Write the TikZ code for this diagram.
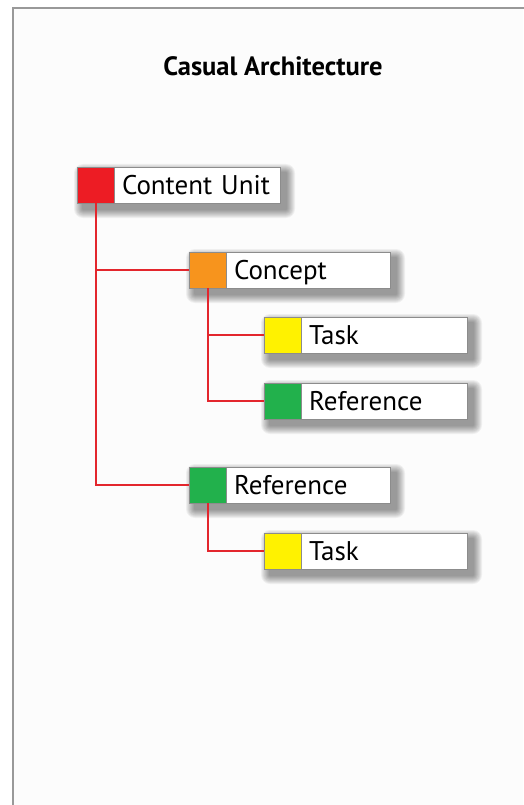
\documentclass[tikz,border=0pt]{standalone}
\usepackage{fontspec}
\setmainfont{PT Sans}
\begin{document}
\begin{tikzpicture}[x=1pt,y=-1pt,
  sq/.style={draw=black!45, line width=0.8pt, minimum width=37pt, minimum height=36pt, inner sep=0pt, outer sep=0pt},
  lab/.style={draw=black!45, line width=0.8pt, fill=white, minimum height=36pt, inner sep=0pt, outer sep=0pt, anchor=west, align=left, font=\fontsize{27}{28}\selectfont, text depth=0pt, text height=18.5pt},
  conn/.style={draw=linered, line width=2pt},
]
\definecolor{linered}{HTML}{E3262D}
\definecolor{cred}{HTML}{ED1C24}
\definecolor{corange}{HTML}{F7941D}
\definecolor{cyellow}{HTML}{FFF200}
\definecolor{cgreen}{HTML}{22B14C}
\definecolor{pagebg}{HTML}{FCFCFC}
\useasboundingbox (0,0) rectangle (523,805);
\fill[white] (0,0) rectangle (523,805);
\fill[pagebg] (13,8) rectangle (523,805);
\draw[black!40, line width=2.6pt] (13,820) -- (13,8) -- (530,8);
\node[font=\bfseries\fontsize{26.5}{30}\selectfont] (title) at (273,66) {Casual Architecture};
% shadows
\foreach \xa/\ya/\xb/\yb in {77/167/280/203, 189/252/390/288, 264/317/467/353, 264/383/467/419, 189/467/390/503, 264/533/467/569}{
  \foreach \r in {1,...,9}{
    \fill[black, opacity=0.05, rounded corners=\r pt] (\xa+6-\r,\ya+6-\r) rectangle (\xb+6+\r,\yb+6+\r);
  }
}
\node[sq, fill=cred] (cu) at (95.5,185) {};
\node[sq, fill=corange] (co) at (207.5,270) {};
\node[sq, fill=cyellow] (t1) at (282.5,335) {};
\node[sq, fill=cgreen] (r1) at (282.5,401) {};
\node[sq, fill=cgreen] (r2) at (207.5,485) {};
\node[sq, fill=cyellow] (t2) at (282.5,551) {};
\draw[conn] (cu.south) |- (co.west);
\draw[conn] (cu.south) |- (r2.west);
\draw[conn] (co.south) |- (t1.west);
\draw[conn] (co.south) |- (r1.west);
\draw[conn] (r2.south) |- (t2.west);
\node[lab, minimum width=166pt, text width=150pt] (cuL) at (cu.east) {Content Unit};
\node[lab, minimum width=164pt, text width=148pt] (coL) at (co.east) {Concept};
\node[lab, minimum width=166pt, text width=150pt] (t1L) at (t1.east) {Task};
\node[lab, minimum width=166pt, text width=150pt] (r1L) at (r1.east) {Reference};
\node[lab, minimum width=164pt, text width=148pt] (r2L) at (r2.east) {Reference};
\node[lab, minimum width=166pt, text width=150pt] (t2L) at (t2.east) {Task};
\end{tikzpicture}
\end{document}
